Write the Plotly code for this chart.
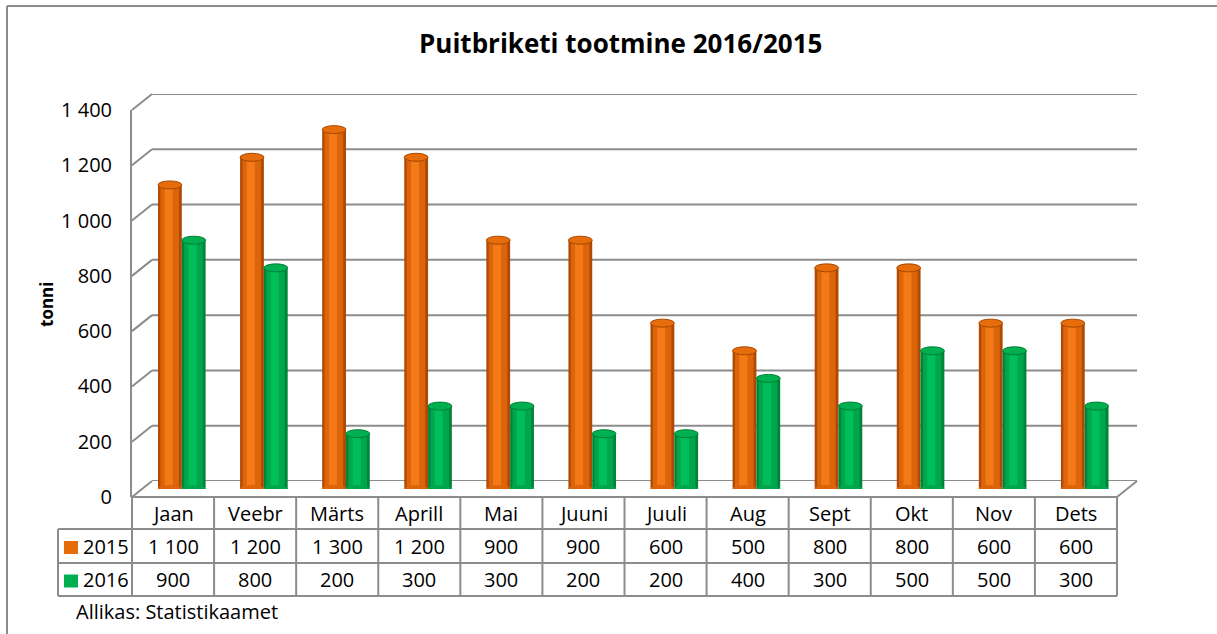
import plotly.graph_objects as go

# ---------------- data ----------------
months = ["Jaan", "Veebr", "Märts", "Aprill", "Mai", "Juuni", "Juuli", "Aug", "Sept", "Okt", "Nov", "Dets"]
series_names = ["2015", "2016"]
values_2015 = [1100, 1200, 1300, 1200, 900, 900, 600, 500, 800, 800, 600, 600]
values_2016 = [900, 800, 200, 300, 300, 200, 200, 400, 300, 500, 500, 300]
y_tickvals = [0, 200, 400, 600, 800, 1000, 1200, 1400]
y_ticktext = ["0", "200", "400", "600", "800", "1 000", "1 200", "1 400"]
title_text = "Puitbriketi tootmine 2016/2015"
y_title = "tonni"
source_text = "Allikas: Statistikaamet"

# ---------------- geometry / style ----------------
W, H = 1217, 634
FX0, FX1 = 132, 1117          # front plane x (table width)
FY0, FY1 = 497, 110           # front plane y for 0 and max
YMAX = 1400
DX, DY = 20, -16              # back wall offset
MX, MY = 10, -8               # bar depth offset
GRID = "#8C8C8C"
FONT = "'Open Sans', Lato, sans-serif"
n = len(months)
cw = (FX1 - FX0) / n


def P(x):
    return x / W


def Q(y):
    return 1 - y / H


def fy(v, depth=0.0):
    return FY0 + depth * DY - (FY0 - FY1) * v / YMAX


def fmt(v):
    return f"{v:,}".replace(",", " ")


fig = go.Figure()

series = [
    (values_2015, -0.305, ["#AE4A05", "#DC650B", "#F47A17"], "#E66C0C", "#A84800"),
    (values_2016, -0.015, ["#00843A", "#00A64B", "#00BE59"], "#00B050", "#007F35"),
]
bw = 0.29
layers = [(0.0, 1.0), (0.10, 0.78), (0.28, 0.34)]
xs = list(range(n))
shapes = []
for vals, ob, cols, topc, topl in series:
    for (st, fr), c in zip(layers, cols):
        fig.add_trace(go.Bar(
            x=xs, y=vals, width=bw * fr, offset=ob + bw * st,
            marker=dict(color=c, line=dict(width=0)),
            xaxis="x3", yaxis="y3", showlegend=False, hoverinfo="skip"))
    for i, v in enumerate(vals):
        shapes.append(dict(type="circle", xref="x3", yref="y3", x0=i + ob, x1=i + ob + bw,
                           ysizemode="pixel", yanchor=0, y0=-4, y1=4,
                           fillcolor=cols[1], line=dict(width=0), layer="above"))
        shapes.append(dict(type="circle", xref="x3", yref="y3", x0=i + ob, x1=i + ob + bw,
                           ysizemode="pixel", yanchor=v, y0=-4, y1=4,
                           fillcolor=topc, line=dict(color=topl, width=1), layer="above"))

fig.add_trace(go.Scatter(x=[], y=[], xaxis="x", yaxis="y", showlegend=False))
fig.add_trace(go.Scatter(x=[], y=[], xaxis="x2", yaxis="y2", showlegend=False))

line = dict(color=GRID, width=2)
for v in y_tickvals:
    shapes.append(dict(type="line", xref="x2 domain", yref="y2", x0=0, x1=1, y0=v, y1=v,
                       line=line, layer="below"))
    shapes.append(dict(type="line", xref="paper", yref="paper",
                       x0=P(FX0), y0=Q(fy(v)), x1=P(FX0 + DX), y1=Q(fy(v, 1)),
                       line=line, layer="below"))
shapes.append(dict(type="line", xref="paper", yref="paper",
                   x0=P(FX1), y0=Q(FY0), x1=P(FX1 + DX), y1=Q(fy(0, 1)), line=line))

# data table
row_y = [497, 529, 563, 596]
LX = 58
for k, yy in enumerate(row_y):
    x0 = FX0 if k == 0 else LX
    shapes.append(dict(type="line", xref="paper", yref="paper",
                       x0=P(x0), x1=P(FX1), y0=Q(yy), y1=Q(yy), line=line))
for k in range(n + 1):
    xx = FX0 + k * cw
    shapes.append(dict(type="line", xref="paper", yref="paper",
                       x0=P(xx), x1=P(xx), y0=Q(row_y[0]), y1=Q(row_y[-1]), line=line))
shapes.append(dict(type="line", xref="paper", yref="paper",
                   x0=P(LX), x1=P(LX), y0=Q(row_y[1]), y1=Q(row_y[-1]), line=line))

annotations = []
tf = dict(family=FONT, size=20, color="#000000")
for i, m in enumerate(months):
    annotations.append(dict(x=i, y=Q((row_y[0] + row_y[1]) / 2), xref="x", yref="paper",
                            text=m, showarrow=False, font=tf, xanchor="center", yanchor="middle"))
for r, (vals, name, col) in enumerate([(values_2015, series_names[0], "#E46C0A"),
                                       (values_2016, series_names[1], "#00B050")]):
    yc = (row_y[r + 1] + row_y[r + 2]) / 2
    for i, v in enumerate(vals):
        annotations.append(dict(x=i, y=Q(yc), xref="x", yref="paper", text=fmt(v),
                                showarrow=False, font=tf, xanchor="center", yanchor="middle"))
    shapes.append(dict(type="rect", xref="paper", yref="paper",
                       x0=P(64), x1=P(78), y0=Q(yc - 5), y1=Q(yc + 8),
                       fillcolor=col, line=dict(width=0)))
    annotations.append(dict(x=P(81), y=Q(yc), xref="paper", yref="paper", text=name,
                            showarrow=False, font=tf, xanchor="left", yanchor="middle"))

annotations.append(dict(x=P(620), y=Q(43), xref="paper", yref="paper",
                        text="<b>" + title_text + "</b>", showarrow=False,
                        font=dict(family=FONT, size=26, color="#000"), xanchor="center", yanchor="middle"))
annotations.append(dict(x=P(46), y=Q(305), xref="paper", yref="paper",
                        text="<b>" + y_title + "</b>", showarrow=False, textangle=-90,
                        font=dict(family=FONT, size=17, color="#000"), xanchor="center", yanchor="middle"))
annotations.append(dict(x=P(74), y=Q(611), xref="paper", yref="paper", text=source_text,
                        showarrow=False, font=tf, xanchor="left", yanchor="middle"))

# outer frame (only top and left edges visible in the picture)
shapes.append(dict(type="line", xref="paper", yref="paper", x0=P(7), x1=1, y0=Q(6), y1=Q(6),
                   line=dict(color=GRID, width=2)))
shapes.append(dict(type="line", xref="paper", yref="paper", x0=P(7), x1=P(7), y0=Q(6), y1=0,
                   line=dict(color=GRID, width=2)))

axis_off = dict(showgrid=False, zeroline=False, showticklabels=False, showline=False, ticks="",
                automargin=False)
fig.update_layout(
    width=W, height=H, margin=dict(l=0, r=0, t=0, b=0, pad=0, autoexpand=False),
    paper_bgcolor="white", plot_bgcolor="rgba(0,0,0,0)",
    barmode="overlay", showlegend=False,
    xaxis=dict(domain=[P(FX0), P(FX1)], range=[-0.5, n - 0.5], anchor="y", **axis_off),
    yaxis=dict(domain=[Q(FY0), Q(FY1)], range=[0, YMAX], anchor="x",
               tickvals=y_tickvals, ticktext=y_ticktext, showgrid=False, zeroline=False,
               showline=True, linecolor=GRID, linewidth=2, ticks="", ticklabelstandoff=14,
               automargin=False, tickfont=dict(family=FONT, size=20, color="#000")),
    xaxis2=dict(domain=[P(FX0 + DX), P(FX1 + DX)], range=[-0.5, n - 0.5], anchor="y2", **axis_off),
    yaxis2=dict(domain=[Q(FY0 + DY), Q(FY1 + DY)], range=[0, YMAX], anchor="x2", **axis_off),
    xaxis3=dict(domain=[P(FX0 + MX), P(FX1 + MX)], range=[-0.5, n - 0.5], anchor="y3", **axis_off),
    yaxis3=dict(domain=[Q(FY0 + MY), Q(FY1 + MY)], range=[0, YMAX], anchor="x3", **axis_off),
    shapes=shapes, annotations=annotations,
)

fig.write_html("out.html", config={"displayModeBar": False},
               post_script="document.body.style.margin='0';document.body.style.overflow='hidden';"
                           "document.documentElement.style.overflow='hidden';")
